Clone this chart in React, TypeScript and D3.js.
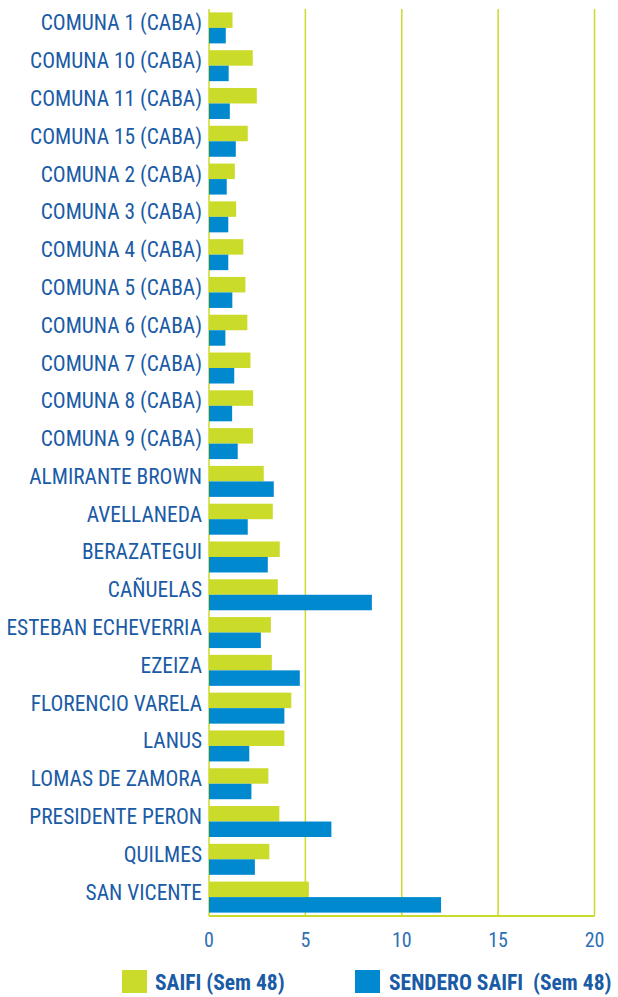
import React from "react";
import * as d3 from "d3";

const categories = [
  "COMUNA 1 (CABA)", "COMUNA 10 (CABA)", "COMUNA 11 (CABA)", "COMUNA 15 (CABA)",
  "COMUNA 2 (CABA)", "COMUNA 3 (CABA)", "COMUNA 4 (CABA)", "COMUNA 5 (CABA)",
  "COMUNA 6 (CABA)", "COMUNA 7 (CABA)", "COMUNA 8 (CABA)", "COMUNA 9 (CABA)",
  "ALMIRANTE BROWN", "AVELLANEDA", "BERAZATEGUI", "CAÑUELAS",
  "ESTEBAN ECHEVERRIA", "EZEIZA", "FLORENCIO VARELA", "LANUS",
  "LOMAS DE ZAMORA", "PRESIDENTE PERON", "QUILMES", "SAN VICENTE",
];
const saifi = [
  1.22, 2.27, 2.48, 2.01, 1.34, 1.41, 1.78, 1.89, 1.99, 2.15, 2.29, 2.28,
  2.84, 3.31, 3.67, 3.57, 3.21, 3.26, 4.27, 3.91, 3.08, 3.65, 3.13, 5.18,
];
const sendero = [
  0.87, 1.02, 1.08, 1.39, 0.92, 1.0, 1.0, 1.21, 0.85, 1.31, 1.2, 1.49,
  3.36, 2.01, 3.05, 8.45, 2.69, 4.71, 3.91, 2.09, 2.2, 6.35, 2.38, 12.04,
];
const xTicks = [0, 5, 10, 15, 20];
const seriesNames = ["SAIFI (Sem 48)", "SENDERO SAIFI  (Sem 48)"];

const GREEN = "#cbdb2a";
const BLUE = "#0089cf";
const TEXT = "#1a5ba6";
const FONT = "'Liberation Sans Narrow', 'Roboto Condensed', 'DejaVu Sans Condensed', sans-serif";

export default function App() {
  const W = 618, H = 997;
  const left = 209, right = 594.5, top = 9, bottom = 916;
  const x = d3.scaleLinear().domain([0, 20]).range([left, right]);
  const y = d3.scaleBand<string>().domain(categories).range([top, bottom]).paddingInner(0.18).paddingOuter(0.09);
  const bh = y.bandwidth() / 2;

  return (
    <svg width={W} height={H} style={{ position: "absolute", left: 0, top: 0, background: "#fff" }}>
      {xTicks.map((t) => (
        <line key={"g" + t} x1={x(t)} x2={x(t)} y1={top} y2={bottom} stroke={GREEN} strokeWidth={1.5} />
      ))}
      {categories.map((c, i) => (
        <g key={c}>
          <rect x={x(0)} y={y(c)!} width={x(saifi[i]) - x(0)} height={bh} fill={GREEN} />
          <rect x={x(0)} y={y(c)! + bh} width={x(sendero[i]) - x(0)} height={bh} fill={BLUE} />
          <text x={202} y={y(c)! + bh - 5} dy="0.35em" textAnchor="end" fontFamily={FONT} fontSize={21.4} fill={TEXT}>
            {c}
          </text>
        </g>
      ))}
      <line x1={left} x2={right} y1={bottom} y2={bottom} stroke={GREEN} strokeWidth={2} />
      {xTicks.map((t) => (
        <text key={"t" + t} x={x(t)} y={947} textAnchor="middle" fontFamily={FONT} fontSize={20} fill="#2e6fb5">
          {t}
        </text>
      ))}
      <rect x={122} y={970} width={25} height={23} fill={GREEN} />
      <text x={155} y={989.5} fontFamily={FONT} fontSize={21.5} fontWeight="bold" fill={TEXT}>{seriesNames[0]}</text>
      <rect x={355} y={970} width={25} height={23} fill={BLUE} />
      <text x={389} y={989.5} fontFamily={FONT} fontSize={21.5} fontWeight="bold" fill={TEXT} style={{ whiteSpace: "pre" }}>{seriesNames[1]}</text>
    </svg>
  );
}
